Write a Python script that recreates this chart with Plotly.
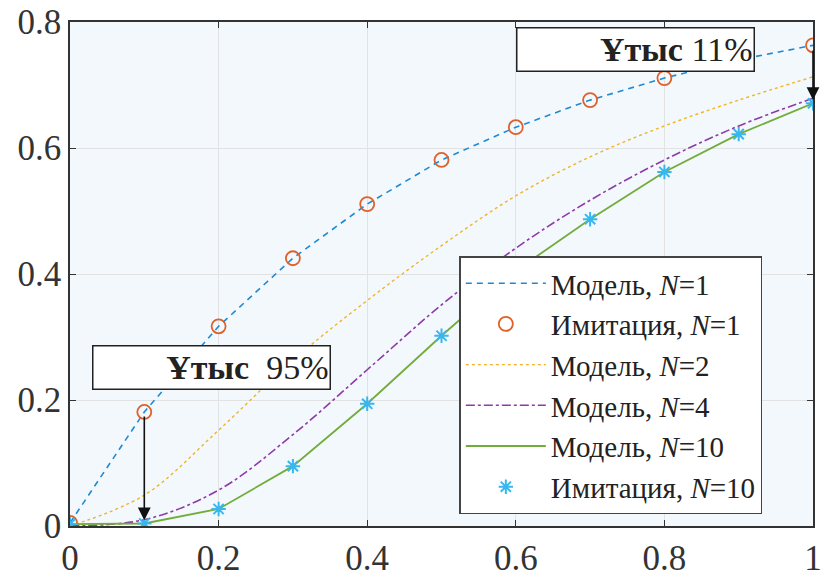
import plotly.graph_objects as go

x = [0, 0.1, 0.2, 0.3, 0.4, 0.5, 0.6, 0.7, 0.8, 0.9, 1.0]
model_n1 = [0.005, 0.181, 0.317, 0.425, 0.511, 0.581, 0.633, 0.676, 0.711, 0.740, 0.763]
sim_n1 = [0.005, 0.181, 0.317, 0.425, 0.511, 0.581, 0.633, 0.676, 0.711, 0.740, 0.763]
model_n2 = [0.0, 0.049, 0.152, 0.263, 0.358, 0.445, 0.524, 0.586, 0.635, 0.676, 0.713]
model_n4 = [0.0, 0.010, 0.057, 0.145, 0.248, 0.351, 0.441, 0.517, 0.581, 0.635, 0.679]
model_n10 = [0.003, 0.004, 0.027, 0.095, 0.194, 0.302, 0.405, 0.487, 0.562, 0.622, 0.671]
sim_n10 = [0.003, 0.004, 0.027, 0.095, 0.194, 0.302, 0.405, 0.487, 0.562, 0.622, 0.671]

x_ticks = [0, 0.2, 0.4, 0.6, 0.8, 1]
x_labels = ["0", "0.2", "0.4", "0.6", "0.8", "1"]
y_ticks = [0, 0.2, 0.4, 0.6, 0.8]
y_labels = ["0", "0.2", "0.4", "0.6", "0.8"]

FONT = "Liberation Serif"

fig = go.Figure()
fig.add_trace(go.Scatter(x=x, y=model_n1, mode="lines", name="Модель, <i>N</i>=1",
                         line=dict(color="#1f8ad3", width=1.6, dash="6px,5px")))
fig.add_trace(go.Scatter(x=x, y=sim_n1, mode="markers", name="Имитация, <i>N</i>=1",
                         marker=dict(symbol="circle-open", size=14, color="#e0602a",
                                     line=dict(width=1.8, color="#e0602a"))))
fig.add_trace(go.Scatter(x=x, y=model_n2, mode="lines", name="Модель, <i>N</i>=2",
                         line=dict(color="#f0b429", width=1.4, dash="dot"), line_shape="spline"))
fig.add_trace(go.Scatter(x=x, y=model_n4, mode="lines", name="Модель, <i>N</i>=4",
                         line=dict(color="#8e3aa8", width=1.6, dash="dashdot"), line_shape="spline"))
fig.add_trace(go.Scatter(x=x, y=model_n10, mode="lines", name="Модель, <i>N</i>=10",
                         line=dict(color="#72ac3a", width=1.8)))
fig.add_trace(go.Scatter(x=x, y=sim_n10, mode="markers", name="Имитация, <i>N</i>=10",
                         marker=dict(symbol="asterisk-open", size=12,
                                     line=dict(width=2, color="#38b6ee"), color="#38b6ee")))

# annotation boxes
fig.add_annotation(x=0.1905, y=0.251, xref="x", yref="y", showarrow=False,
                   text="<b>Ұтыс</b>  95%", width=234, height=40, align="right",
                   font=dict(family=FONT, size=34, color="#222"),
                   bgcolor="white", bordercolor="#222", borderwidth=1.5, borderpad=1)
fig.add_annotation(x=0.761, y=0.757, xref="x", yref="y", showarrow=False,
                   text="<b>Ұтыс</b> 11%", width=234, height=40, align="right",
                   font=dict(family=FONT, size=34, color="#222"),
                   bgcolor="white", bordercolor="#222", borderwidth=1.5, borderpad=1)
# arrows
fig.add_annotation(x=0.1, y=0.009, ax=0.1, ay=0.176, xref="x", yref="y", axref="x", ayref="y",
                   showarrow=True, arrowhead=2, arrowsize=1.6, arrowwidth=1.6, arrowcolor="#111", text="")
fig.add_annotation(x=1.0, y=0.676, ax=1.0, ay=0.757, xref="x", yref="y", axref="x", ayref="y",
                   showarrow=True, arrowhead=2, arrowsize=1.6, arrowwidth=1.6, arrowcolor="#111", text="")

axis_common = dict(showgrid=True, gridcolor="#e2e2e2", gridwidth=1, zeroline=False,
                   showline=True, linecolor="#333", linewidth=1.5, mirror="ticks",
                   ticks="inside", ticklen=6, tickcolor="#333", automargin=False,
                   ticklabeloverflow="allow",
                   tickfont=dict(family=FONT, size=35, color="#333"))

fig.update_xaxes(range=[0, 1], tickvals=x_ticks, ticktext=x_labels, **axis_common)
fig.update_yaxes(range=[0, 0.8], tickvals=y_ticks, ticktext=y_labels, **axis_common)

fig.update_layout(
    width=824, height=577,
    margin=dict(l=70, r=11, t=22, b=51),
    paper_bgcolor="white", plot_bgcolor="#f3f8fc",
    font=dict(family=FONT, size=29, color="#222"),
    legend=dict(x=0.524, y=0.535, xanchor="left", yanchor="top",
                bgcolor="white", bordercolor="#444", borderwidth=1.5,
                font=dict(family=FONT, size=29, color="#222"),
                itemwidth=80, tracegroupgap=0),
    showlegend=True,
)

fig.write_html("out.html")
